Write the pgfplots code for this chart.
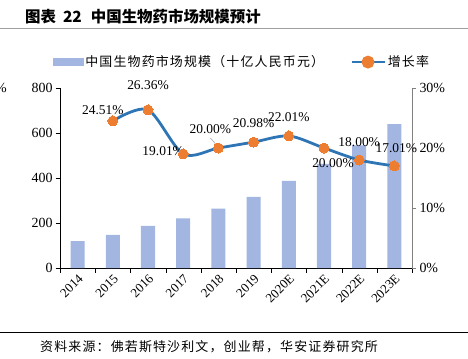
\documentclass[border=0pt]{standalone}
\usepackage{fontspec}
\setmainfont{Liberation Serif}
\newfontfamily\cjk{Noto Sans CJK SC}
\newfontfamily\cjksp[LetterSpace=9]{Noto Sans CJK SC}
\usepackage{pgfplots}
\pgfplotsset{compat=1.18}
\definecolor{barc}{RGB}{162,182,225}
\definecolor{linec}{RGB}{46,117,182}
\definecolor{mk}{RGB}{237,125,49}
\begin{document}
\begin{tikzpicture}
\useasboundingbox (0bp,0bp) rectangle (468bp,-359bp);
\node[anchor=west, inner sep=0, font=\cjk\bfseries\fontsize{15.5}{18}\selectfont] at (25bp,-17bp) {图表\hspace{7bp}22\hspace{9bp}中国生物药市场规模预计};
\draw[gray!75, line width=1.2bp] (0bp,-28.5bp) -- (468bp,-28.5bp);
\draw[black, line width=0.8bp] (0bp,-332bp) -- (468bp,-332bp);
\node[anchor=west, inner sep=0, font=\cjksp\fontsize{13}{15}\selectfont] at (40bp,-347bp) {资料来源：佛若斯特沙利文，创业帮，华安证券研究所};
\node[anchor=east, inner sep=0, font=\fontsize{14}{16}\selectfont] at (7bp,-88bp) {\%};
\begin{axis}[
  at={(60bp,-268bp)}, anchor=south west,
  scale only axis, width=352bp, height=180bp,
  xmin=-0.5, xmax=9.5, ymin=0, ymax=800,
  axis y line*=left, axis x line*=bottom,
  axis line style={-, black},
  ytick={0,200,...,800},
  xtick={0,...,9},
  xticklabels={2014,2015,2016,2017,2018,2019,2020E,2021E,2022E,2023E},
  xticklabel style={rotate=45, anchor=north east, font=\fontsize{13}{15}\selectfont, inner sep=1bp},
  major x tick style={draw=none},
  minor xtick={-0.5,0.5,...,9.5},
  minor tick length=5bp, major tick length=4bp,
  tick align=outside,
  tick style={black},
  yticklabel style={font=\fontsize{14}{16}\selectfont},
  /pgf/number format/assume math mode=true,
  scaled y ticks=false,
]
\addplot[ybar, bar width=0.4, fill=barc, draw=none] coordinates {
(0,119) (1,147) (2,187) (3,221) (4,264) (5,316) (6,387) (7,463) (8,545) (9,640)};
\end{axis}
\begin{axis}[
  at={(60bp,-268bp)}, anchor=south west,
  scale only axis, width=352bp, height=180bp,
  xmin=-0.5, xmax=9.5, ymin=0, ymax=30,
  clip=false,
  axis y line*=right, axis x line=none,
  axis line style={-, gray},
  ytick={0,10,20,30},
  yticklabel={\pgfmathprintnumber{\tick}\%},
  yticklabel style={font=\fontsize{14}{16}\selectfont},
  major tick length=4bp, tick align=outside, tick style={gray},
  /pgf/number format/assume math mode=true,
  legend style={at={(0.517,1.144)}, anchor=center, draw=none, fill=none,
    legend columns=2, font=\cjksp\fontsize{13}{15}\selectfont,
    /tikz/every even column/.append style={column sep=24bp}},
  legend cell align=left,
]
\addlegendimage{legend image code/.code={\fill[barc] (0,-3.5bp) rectangle (30bp,3.5bp);}}
\addlegendentry{中国生物药市场规模（十亿人民币元）}
\addplot[linec, line width=2.8bp, smooth, tension=0.5, mark=*, mark size=5bp,
  mark options={fill=mk, draw=mk, line width=0},
  legend image code/.code={\draw[linec, line width=2.8bp] (0,0) -- (33bp,0); \fill[mk] (16.5bp,0) circle (5bp);}]
  coordinates {(1,24.51) (2,26.36) (3,19.01) (4,20.00) (5,20.98) (6,22.01) (7,20.00) (8,18.00) (9,17.01)};
\addlegendentry{增长率}
\begin{scope}[every node/.style={font=\fontsize{13.5}{15}\selectfont, inner sep=0}]
\node[shift={(-10bp,11bp)}] at (axis cs:1,24.51) {24.51\%};
\node[shift={(0bp,25bp)}] at (axis cs:2,26.36) {26.36\%};
\node[shift={(-20bp,3bp)}] at (axis cs:3,19.01) {19.01\%};
\node[shift={(-8bp,19bp)}] at (axis cs:4,20.00) {20.00\%};
\draw[gray!70, line width=0.6bp] ([shift={(-8bp,10bp)}]axis cs:4,20.00) -- ([shift={(-2bp,3bp)}]axis cs:4,20.00);
\node[shift={(0bp,19bp)}] at (axis cs:5,20.98) {20.98\%};
\node[shift={(0bp,19bp)}] at (axis cs:6,22.01) {22.01\%};
\node[shift={(9bp,-15bp)}] at (axis cs:7,20.00) {20.00\%};
\node[shift={(0bp,18bp)}] at (axis cs:8,18.00) {18.00\%};
\node[shift={(2bp,18bp)}] at (axis cs:9,17.01) {17.01\%};
\end{scope}
\end{axis}
\end{tikzpicture}
\end{document}
